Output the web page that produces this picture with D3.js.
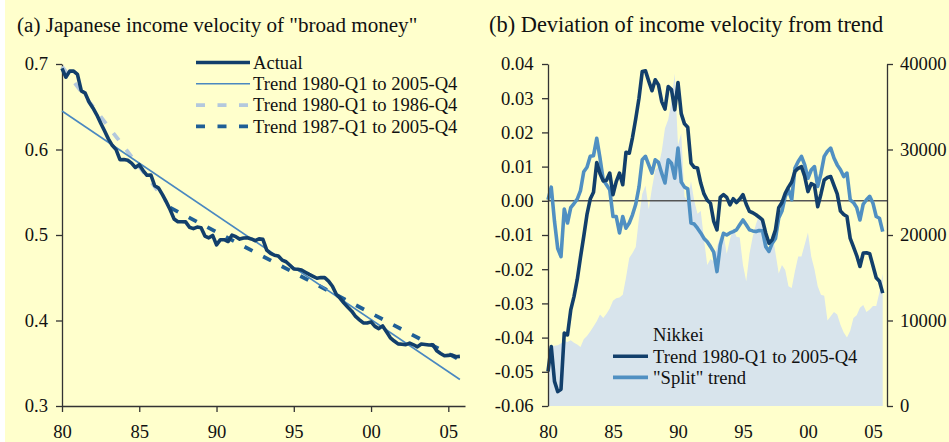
<!DOCTYPE html>
<html>
<head>
<meta charset="utf-8">
<script src="https://cdn.jsdelivr.net/npm/d3@7"></script>
<style>
  html, body { margin: 0; padding: 0; background: #ffffff; }
  svg { display: block; }
  text { font-family: "Liberation Serif", "Times New Roman", serif; fill: #111; }
</style>
</head>
<body>
<svg id="chart" width="949" height="442"></svg>
<script>
// ---------------- DATA ----------------
const startYear = 1980;
const quarters = d3.range(104).map(i => startYear + i / 4);

// Panel (a): income velocity of broad money, quarterly 1980-Q1 .. 2005-Q4
const velocityActual = [
  0.6949, 0.6846, 0.6917, 0.6917,
  0.6879, 0.6685, 0.6659, 0.6556,
  0.6486, 0.6406, 0.6310, 0.6219,
  0.6124, 0.6049, 0.5998, 0.5881,
  0.5882, 0.5874, 0.5841, 0.5790,
  0.5822, 0.5754, 0.5698, 0.5702,
  0.5576, 0.5549, 0.5472, 0.5387,
  0.5296, 0.5188, 0.5156, 0.5155,
  0.5153, 0.5090, 0.5075, 0.5093,
  0.5085, 0.4988, 0.4967, 0.4995,
  0.4885, 0.4945, 0.4945, 0.4924,
  0.4999, 0.4980, 0.4952, 0.4965,
  0.4967, 0.4954, 0.4933, 0.4955,
  0.4950, 0.4824, 0.4786, 0.4763,
  0.4755, 0.4706, 0.4687, 0.4646,
  0.4603, 0.4600, 0.4591, 0.4565,
  0.4540, 0.4517, 0.4494, 0.4502,
  0.4501, 0.4461, 0.4401, 0.4306,
  0.4260, 0.4203, 0.4154, 0.4109,
  0.4047, 0.4008, 0.3972, 0.3971,
  0.3984, 0.3931, 0.3905, 0.3937,
  0.3869, 0.3798, 0.3760, 0.3727,
  0.3722, 0.3717, 0.3736, 0.3716,
  0.3692, 0.3725, 0.3720, 0.3714,
  0.3716, 0.3646, 0.3615, 0.3587,
  0.3592, 0.3596, 0.3576, 0.3580
];
// Trend lines (start / end points)
const trendFull  = [[1980.00, 0.645], [2005.75, 0.331]];
const trendEarly = [[1980.00, 0.697], [1986.75, 0.539]];
const trendLate  = [[1987.00, 0.532], [2005.75, 0.354]];

// Panel (b): deviation of velocity from trend
const devTrend = [
  -0.0499, -0.0426, -0.0528, -0.0558,
  -0.0551, -0.0387, -0.0392, -0.0319,
  -0.0280, -0.0230, -0.0165, -0.0104,
  -0.0040,  0.0005,  0.0025,  0.0112,
   0.0080,  0.0058,  0.0060,  0.0081,
   0.0018,  0.0056,  0.0081,  0.0047,
   0.0142,  0.0139,  0.0185,  0.0240,
   0.0300,  0.0378,  0.0380,  0.0350,
   0.0322,  0.0354,  0.0339,  0.0290,
   0.0268,  0.0334,  0.0325,  0.0266,
   0.0346,  0.0255,  0.0225,  0.0215,
   0.0110,  0.0098,  0.0096,  0.0052,
   0.0020,  0.0002, -0.0007, -0.0060,
  -0.0085,  0.0010,  0.0018,  0.0010,
  -0.0012,  0.0006, -0.0005,  0.0005,
   0.0018, -0.0010, -0.0031, -0.0035,
  -0.0041, -0.0048, -0.0056, -0.0094,
  -0.0124, -0.0114, -0.0085, -0.0020,
  -0.0005,  0.0022,  0.0040,  0.0055,
   0.0086,  0.0095,  0.0100,  0.0071,
   0.0027,  0.0050,  0.0045, -0.0017,
   0.0020,  0.0061,  0.0068,  0.0071,
   0.0045,  0.0020, -0.0030, -0.0040,
  -0.0046, -0.0110, -0.0135, -0.0160,
  -0.0192, -0.0153, -0.0152, -0.0155,
  -0.0190, -0.0225, -0.0235, -0.0270
];
const devSplit = [
   0.0003,  0.0040, -0.0060, -0.0140,
  -0.0163, -0.0024, -0.0065, -0.0020,
  -0.0008,  0.0005,  0.0030,  0.0085,
   0.0098,  0.0130,  0.0132,  0.0183,
   0.0125,  0.0061,  0.0047,  0.0032,
  -0.0046, -0.0046, -0.0094, -0.0046,
  -0.0080, -0.0065, -0.0041, -0.0010,
   0.0040,  0.0120,  0.0130,  0.0105,
   0.0081,  0.0120,  0.0112,  0.0080,
   0.0052,  0.0120,  0.0110,  0.0066,
   0.0154,  0.0055,  0.0040,  0.0035,
  -0.0065, -0.0068, -0.0080, -0.0094,
  -0.0110, -0.0120, -0.0134, -0.0150,
  -0.0207, -0.0130, -0.0095, -0.0100,
  -0.0094, -0.0090, -0.0085, -0.0070,
  -0.0056, -0.0070, -0.0085, -0.0088,
  -0.0090, -0.0087, -0.0088, -0.0134,
  -0.0148, -0.0124, -0.0110, -0.0050,
  -0.0030,  0.0013,  0.0032,  0.0003,
   0.0096,  0.0115,  0.0130,  0.0105,
   0.0066,  0.0090,  0.0100,  0.0042,
   0.0080,  0.0130,  0.0145,  0.0154,
   0.0125,  0.0105,  0.0091,  0.0071,
   0.0081,  0.0003, -0.0005, -0.0020,
  -0.0056, -0.0010,  0.0003,  0.0013,
  -0.0007, -0.0046, -0.0051, -0.0090
];
// Nikkei 225 (right axis)
const nikkei = [
   6700,  6950,  7050,  7100,
   7300,  7600,  7500,  7700,
   7400,  7200,  6900,  7800,
   8200,  8700,  9300,  9900,
  10700, 10300, 10800, 11400,
  12300, 12600, 12700, 13000,
  15000, 17300, 17900, 18600,
  22000, 24800, 25800, 23000,
  25500, 27600, 28000, 29800,
  32500, 33500, 35600, 38900,
  30500, 31900, 24500, 24000,
  26300, 24000, 22500, 22800,
  19500, 16500, 17200, 16900,
  18600, 19800, 20100, 17800,
  19500, 20800, 19800, 19700,
  16500, 14600, 17800, 19800,
  21300, 22300, 21500, 19800,
  18000, 20300, 17900, 15500,
  16500, 15900, 14000, 13800,
  15800, 17500, 17500, 18900,
  20300, 17500, 16000, 14000,
  13000, 12900, 10000, 10500,
  11000, 10700,  9500,  8600,
   8000,  8800, 10300, 10600,
  11500, 11800, 11000, 11300,
  11700, 11700, 13300, 15500
];

const xTicks = [1980, 1985, 1990, 1995, 2000, 2005];
const yTicksA = [0.3, 0.4, 0.5, 0.6, 0.7];
const yTicksB = [-0.06, -0.05, -0.04, -0.03, -0.02, -0.01, 0.0, 0.01, 0.02, 0.03, 0.04];
const yTicksN = [0, 10000, 20000, 30000, 40000];

const titleA = '(a) Japanese income velocity of "broad money"';
const titleB = '(b) Deviation of income velocity from trend';
const legendA = ['Actual', 'Trend 1980-Q1 to 2005-Q4', 'Trend 1980-Q1 to 1986-Q4', 'Trend 1987-Q1 to 2005-Q4'];
const legendB = ['Nikkei', 'Trend 1980-Q1 to 2005-Q4', '"Split" trend'];

// ---------------- STYLE ----------------
const C = {
  bg: '#FFFFCC',
  dark: '#123F6B',
  trendLight: '#4A88C0',
  dashLight: '#B3C8DD',
  dashDark: '#1F5F96',
  split: '#5090C2',
  area: '#D8E4EC',
  axis: '#333333',
  zero: '#555555'
};
const FS = 18.6;

const svg = d3.select('#chart');
svg.append('rect').attr('x', 5).attr('y', 0).attr('width', 944).attr('height', 442).attr('fill', C.bg);

// ---------------- PANEL A ----------------
const xA = d3.scaleLinear().domain([1980, 2006.08]).range([62, 465]);
const yA = d3.scaleLinear().domain([0.3, 0.7]).range([406, 64]);

svg.append('text').attr('x', 17).attr('y', 32).style('font-size', '21.1px').text(titleA);

const lineA = d3.line().x(d => xA(d[0])).y(d => yA(d[1]));

function styleAxis(g) {
  g.selectAll('path.domain').attr('stroke', C.axis).attr('stroke-width', 1.3);
  g.selectAll('.tick line').attr('stroke', C.axis).attr('stroke-width', 1.3);
  g.selectAll('.tick text').attr('fill', '#111').style('font-size', FS + 'px')
    .style('font-family', '"Liberation Serif", "Times New Roman", serif');
}

const fmtA = d3.format('.1f');
const gYA = svg.append('g').attr('transform', 'translate(62,0)')
  .call(d3.axisLeft(yA).tickValues(yTicksA).tickFormat(fmtA).tickSize(6).tickSizeOuter(0).tickPadding(8));
styleAxis(gYA);
const gXA = svg.append('g').attr('transform', 'translate(0,406)')
  .call(d3.axisBottom(xA).tickValues(xTicks).tickFormat(d => String(d).slice(2)).tickSize(6).tickSizeOuter(0).tickPadding(12.5));
styleAxis(gXA);

// trend lines
svg.append('path').datum(trendEarly).attr('d', lineA).attr('fill', 'none')
  .attr('stroke', C.dashLight).attr('stroke-width', 3.8).attr('stroke-dasharray', '9,12');
svg.append('path').datum(trendLate).attr('d', lineA).attr('fill', 'none')
  .attr('stroke', C.dashDark).attr('stroke-width', 3.8).attr('stroke-dasharray', '9,12');
svg.append('path').datum(trendFull).attr('d', lineA).attr('fill', 'none')
  .attr('stroke', C.trendLight).attr('stroke-width', 1.6);
// actual
svg.append('path').datum(quarters.map((q, i) => [q, velocityActual[i]])).attr('d', lineA)
  .attr('fill', 'none').attr('stroke', C.dark).attr('stroke-width', 3.6).attr('stroke-linejoin', 'round');

// legend A
const legAStyles = [
  { stroke: C.dark, w: 3.6, dash: null },
  { stroke: C.trendLight, w: 1.6, dash: null },
  { stroke: C.dashLight, w: 3.8, dash: '9,12.5' },
  { stroke: C.dashDark, w: 3.8, dash: '9,12.5' }
];
legendA.forEach((t, i) => {
  const y = 62.5 + i * 21.3;
  const ln = svg.append('line').attr('x1', 196).attr('x2', 250).attr('y1', y).attr('y2', y)
    .attr('stroke', legAStyles[i].stroke).attr('stroke-width', legAStyles[i].w);
  if (legAStyles[i].dash) ln.attr('stroke-dasharray', legAStyles[i].dash);
  svg.append('text').attr('x', 253).attr('y', y).attr('dy', '0.34em').style('font-size', FS + 'px').text(t);
});

// ---------------- PANEL B ----------------
const xB = d3.scaleLinear().domain([1980, 2006.08]).range([548, 887]);
const yB = d3.scaleLinear().domain([-0.06, 0.04]).range([406, 64]);
const yN = d3.scaleLinear().domain([0, 40000]).range([406, 64]);

svg.append('text').attr('x', 489).attr('y', 32).style('font-size', '22.4px').text(titleB);

// Nikkei area
const area = d3.area().x((d, i) => xB(quarters[i])).y0(yN(0)).y1(d => yN(d));
svg.append('path').datum(nikkei).attr('d', area).attr('fill', C.area);

// zero line
svg.append('line').attr('x1', xB(1980)).attr('x2', 887).attr('y1', yB(0)).attr('y2', yB(0))
  .attr('stroke', C.zero).attr('stroke-width', 1.4);

const lineB = d3.line().x((d, i) => xB(quarters[i])).y(d => yB(d));
svg.append('path').datum(devSplit).attr('d', lineB).attr('fill', 'none')
  .attr('stroke', C.split).attr('stroke-width', 3.6).attr('stroke-linejoin', 'round');
svg.append('path').datum(devTrend).attr('d', lineB).attr('fill', 'none')
  .attr('stroke', C.dark).attr('stroke-width', 3.6).attr('stroke-linejoin', 'round');

const fmtB = d => d3.format('.2f')(d).replace('\u2212', '-');
const gYB = svg.append('g').attr('transform', 'translate(548,0)')
  .call(d3.axisLeft(yB).tickValues(yTicksB).tickFormat(fmtB).tickSize(6).tickSizeOuter(0).tickPadding(8.5));
styleAxis(gYB);
const gYN = svg.append('g').attr('transform', 'translate(887,0)')
  .call(d3.axisRight(yN).tickValues(yTicksN).tickFormat(d3.format('d')).tickSize(6).tickSizeOuter(0).tickPadding(7));
styleAxis(gYN);
const gXB = svg.append('g').attr('transform', 'translate(0,406)')
  .call(d3.axisBottom(xB).tickValues(xTicks).tickFormat(d => String(d).slice(2)).tickSize(0).tickPadding(18.5));
styleAxis(gXB);
gXB.select('path.domain').remove();

// legend B
const legBStyles = [
  { stroke: null },
  { stroke: C.dark },
  { stroke: C.split }
];
legendB.forEach((t, i) => {
  const y = 335 + i * 21.2;
  if (legBStyles[i].stroke) {
    svg.append('line').attr('x1', 613).attr('x2', 648).attr('y1', y).attr('y2', y)
      .attr('stroke', legBStyles[i].stroke).attr('stroke-width', 3.6);
  } else {
    svg.append('rect').attr('x', 613).attr('y', y - 6).attr('width', 35).attr('height', 12).attr('fill', C.area);
  }
  svg.append('text').attr('x', 653).attr('y', y).attr('dy', '0.34em').style('font-size', FS + 'px').text(t);
});
</script>
</body>
</html>
